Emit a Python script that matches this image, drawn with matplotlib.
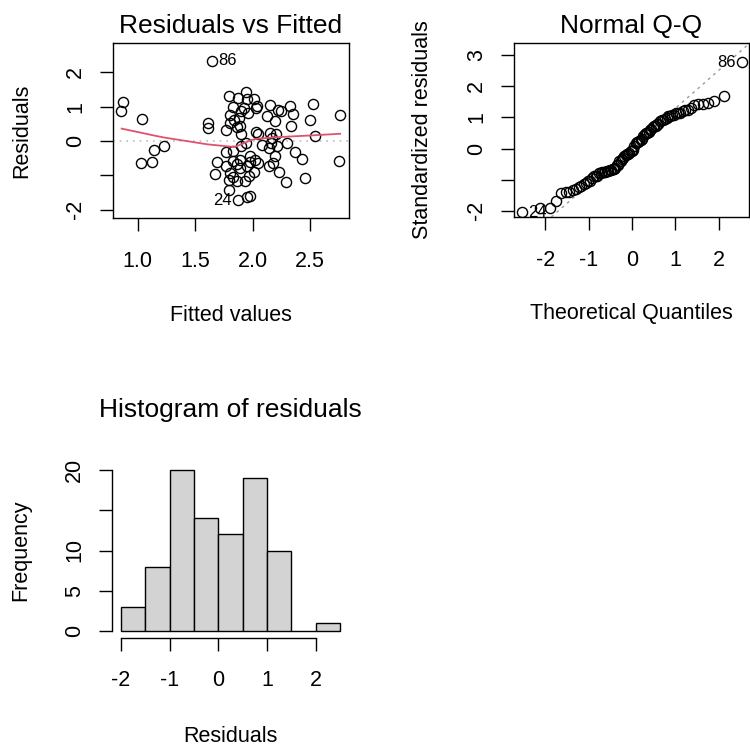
import numpy as np
import matplotlib.pyplot as plt
from statistics import NormalDist

plt.rcParams['font.family'] = ['Liberation Sans', 'DejaVu Sans']
plt.rcParams['axes.unicode_minus'] = False

# fitted values and raw residuals of the model
fitted = [1.65,
          0.87, 2.52, 2.32, 1.94, 1.79, 1.87, 1.95, 2.01, 2.15, 2.04,
          0.855, 1.035, 1.61, 2.76, 2.50, 2.35, 1.83, 1.92, 2.03, 2.25,
          2.22, 1.80, 1.88, 1.96, 2.12, 2.19, 1.80, 1.84, 1.90,
          1.61, 2.54, 2.33, 1.89, 1.77, 1.90, 2.03, 2.05, 2.15, 2.20, 1.86, 2.17,
          1.14, 1.23, 2.30, 2.37, 2.16, 1.90, 2.14, 2.21, 2.19, 1.77, 1.98, 1.94,
          2.08, 1.83,
          1.03, 1.12, 2.75, 2.43, 2.23, 1.69, 1.67, 1.77, 1.83, 1.89, 2.05, 2.02,
          1.80, 1.89, 1.95, 2.01, 2.14, 2.18, 1.86, 1.98,
          2.455, 2.29, 1.79, 1.86, 1.93, 1.79, 1.83, 1.97,
          1.87, 1.95, 1.98]
resid = [2.34,
         1.13, 1.08, 1.03, 1.42, 1.30, 1.25, 1.21, 1.22, 1.06, 1.02,
         0.87, 0.64, 0.51, 0.75, 0.60, 0.79, 0.98, 0.96, 0.96, 0.87,
         0.90, 0.77, 0.67, 0.82, 0.74, 0.58, 0.53, 0.60, 0.88,
         0.39, 0.14, 0.43, 0.45, 0.33, 0.19, 0.25, 0.19, 0.23, 0.21, 0.42, 0.08,
         -0.25, -0.16, -0.06, -0.33, -0.06, -0.16, -0.20, -0.16, -0.45, -0.33, -0.45, -0.05,
         -0.12, -0.28,
         -0.64, -0.61, -0.58, -0.53, -0.89, -0.62, -0.97, -0.74, -0.59, -0.55, -0.64, -0.55,
         -0.94, -0.79, -0.74, -0.89, -0.74, -0.64, -0.68, -0.60,
         -1.08, -1.21, -1.13, -1.18, -1.18, -1.44, -1.05, -1.02,
         -1.73, -1.62, -1.61]

# case numbers of the two largest |residuals|, largest first
id_labels = ['86', '24']

# lowess smoother through residuals vs fitted
smooth_x = [0.86, 1.03, 1.14, 1.23, 1.61, 1.70, 1.79, 1.84, 1.90, 1.98, 2.03, 2.21, 2.50, 2.76]
smooth_y = [0.36, 0.24, 0.16, 0.10, -0.10, -0.13, -0.16, -0.175, -0.10, 0.02, 0.06, 0.11, 0.16, 0.21]

hist_breaks = [-2.0, -1.5, -1.0, -0.5, 0.0, 0.5, 1.0, 1.5, 2.0, 2.5]

W, H = 750, 747
LAB = 15.5
TICK_LEN = 9.5


def add_panel(fig, left, top, right, bottom):
    return fig.add_axes([left / W, 1 - bottom / H, (right - left) / W, (bottom - top) / H])


def r_style(ax, yticks, ylabels=None):
    for s in ax.spines.values():
        s.set_linewidth(1.0)
    ax.tick_params(direction='out', length=TICK_LEN, width=1.0, labelsize=LAB)
    ax.tick_params(axis='x', pad=14)
    ax.tick_params(axis='y', pad=10, labelrotation=90)
    ax.set_yticks(yticks, ylabels if ylabels is not None else [str(t) for t in yticks])
    plt.setp(ax.get_yticklabels(), va='center')


def label_points(ax, xs, ys, idx, names, mid):
    for i, name in zip(idx, names):
        if xs[i] < mid:
            ax.annotate(name, (xs[i], ys[i]), xytext=(4.5, 0), textcoords='offset points',
                        ha='left', va='center', fontsize=12)
        else:
            ax.annotate(name, (xs[i], ys[i]), xytext=(-4.5, 0), textcoords='offset points',
                        ha='right', va='center', fontsize=12)


fitted = np.array(fitted)
resid = np.array(resid)
n = len(resid)

fig = plt.figure(figsize=(W / 100, H / 100), dpi=100)

# residuals vs fitted
ax1 = add_panel(fig, 113, 43, 349, 218)
ax1.axhline(0, color='#bebebe', lw=1.2, ls=(0, (1, 3)))
ax1.plot(fitted, resid, 'o', ls='none', mfc='none', mec='black', ms=7.3, mew=1.0)
ax1.plot(smooth_x, smooth_y, color='#DF536B', lw=1.3)
ax1.set_xlim(0.785, 2.837)
ax1.set_ylim(-2.245, 2.855)
ax1.set_xticks([1.0, 1.5, 2.0, 2.5], ['1.0', '1.5', '2.0', '2.5'])
r_style(ax1, [-2, -1, 0, 1, 2], ['-2', '', '0', '1', '2'])
ax1.set_title('Residuals vs Fitted', fontsize=19, pad=7)
ax1.set_xlabel('Fitted values', fontsize=LAB)
ax1.xaxis.set_label_coords(0.5, -0.497)
ax1.set_ylabel('Residuals', fontsize=LAB)
ax1.yaxis.set_label_coords(-0.341, 0.5)
top = np.argsort(-np.abs(resid))[:len(id_labels)]
label_points(ax1, fitted, resid, top, id_labels, sum(ax1.get_xlim()) / 2)

# normal Q-Q of standardized residuals
s = np.sqrt(np.sum(resid ** 2) / (n - 2))
lev = 1 / n + (fitted - fitted.mean()) ** 2 / np.sum((fitted - fitted.mean()) ** 2)
std_res = resid / (s * np.sqrt(1 - lev))
order = np.argsort(std_res)
theo = np.array([NormalDist().inv_cdf((i - 0.5) / n) for i in range(1, n + 1)])
qq_y = std_res[order]

ax2 = add_panel(fig, 514, 43, 749, 217)
q1, q3 = np.quantile(std_res, [0.25, 0.75])
z1, z3 = NormalDist().inv_cdf(0.25), NormalDist().inv_cdf(0.75)
slope = (q3 - q1) / (z3 - z1)
icpt = q1 - slope * z1
ax2.axline((0, icpt), slope=slope, color='#9a9a9a', lw=1.0, ls=(0, (2, 3)))
ax2.plot(theo, qq_y, 'o', ls='none', mfc='none', mec='black', ms=7.3, mew=1.0)
ax2.set_xlim(-2.72, 2.70)
ax2.set_ylim(-2.2, 3.39)
ax2.set_xticks([-2, -1, 0, 1, 2])
r_style(ax2, [-2, -1, 0, 1, 2, 3], ['-2', '', '0', '1', '2', '3'])
ax2.set_title('Normal Q-Q', fontsize=19, pad=7)
ax2.set_xlabel('Theoretical Quantiles', fontsize=LAB)
ax2.xaxis.set_label_coords(0.5, -0.497)
ax2.set_ylabel('Standardized residuals', fontsize=LAB)
ax2.yaxis.set_label_coords(-0.343, 0.5)
rank = np.empty(n, dtype=int)
rank[order] = np.arange(n)
label_points(ax2, theo, qq_y, rank[top], id_labels, 0)

# histogram of residuals
ax3 = add_panel(fig, 112, 463.5, 349, 637.5)
ax3.hist(resid, bins=hist_breaks, color='#D3D3D3', edgecolor='black', linewidth=1.0)
ax3.set_xlim(-2.18, 2.68)
ax3.set_ylim(-0.8, 20.8)
ax3.spines['top'].set_visible(False)
ax3.spines['right'].set_visible(False)
ax3.spines['left'].set_bounds(0, 20)
ax3.spines['bottom'].set_bounds(-2, 2)
ax3.set_xticks([-2, -1, 0, 1, 2])
r_style(ax3, [0, 5, 10, 15, 20], ['0', '5', '10', '', '20'])
ax3.set_title('Histogram of residuals', fontsize=19, pad=33.5)
ax3.set_xlabel('Residuals', fontsize=LAB)
ax3.xaxis.set_label_coords(0.5, -0.506)
ax3.set_ylabel('Frequency', fontsize=LAB)
ax3.yaxis.set_label_coords(-0.341, 0.5)

fig.savefig('out.png', dpi=100)
